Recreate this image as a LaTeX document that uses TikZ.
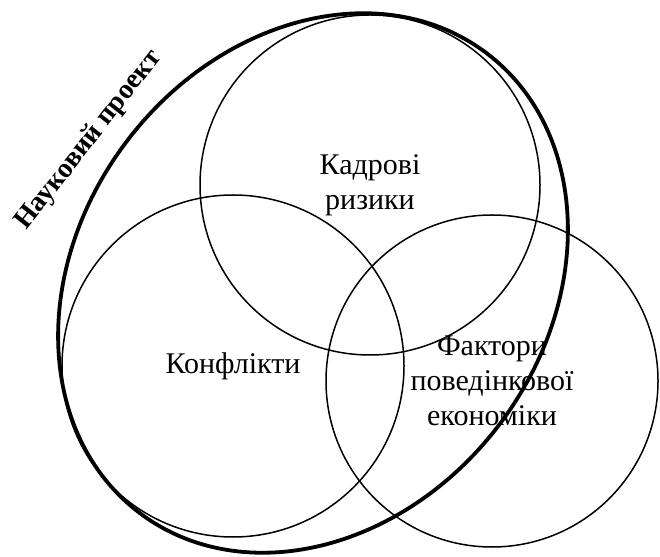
\documentclass[tikz,border=0pt]{standalone}
\usepackage{fontspec}
\setmainfont{Liberation Serif}
\usepackage{tikz}
\usetikzlibrary{positioning}
\tikzset{
  setcircle/.style={draw, circle, line width=1.5pt, align=center, inner sep=0pt,
    font=\fontsize{30}{35}\selectfont},
  projectline/.style={draw, line width=3.8pt},
  projecttitle/.style={font=\fontsize{28}{32}\selectfont\bfseries, rotate=52},
}

\begin{document}
\begin{tikzpicture}[x=1pt, y=1pt]
  \useasboundingbox (0,0) rectangle (660,556);
  \node[setcircle, minimum size=340pt] (staff) at (370,371) {Кадрові\\ризики};
  \node[setcircle, minimum size=342pt] (conflict) at (233,190) {Конфлікти};
  \node[setcircle, minimum size=332pt] (behav) at (492,175) {Фактори\\поведінкової\\економіки};
  \draw[projectline, rotate around={53:(313,273)}] (313,273) ellipse (288 and 234);
  \node[projecttitle] (project) at (89,416) {Науковий проект};
\end{tikzpicture}
\end{document}
